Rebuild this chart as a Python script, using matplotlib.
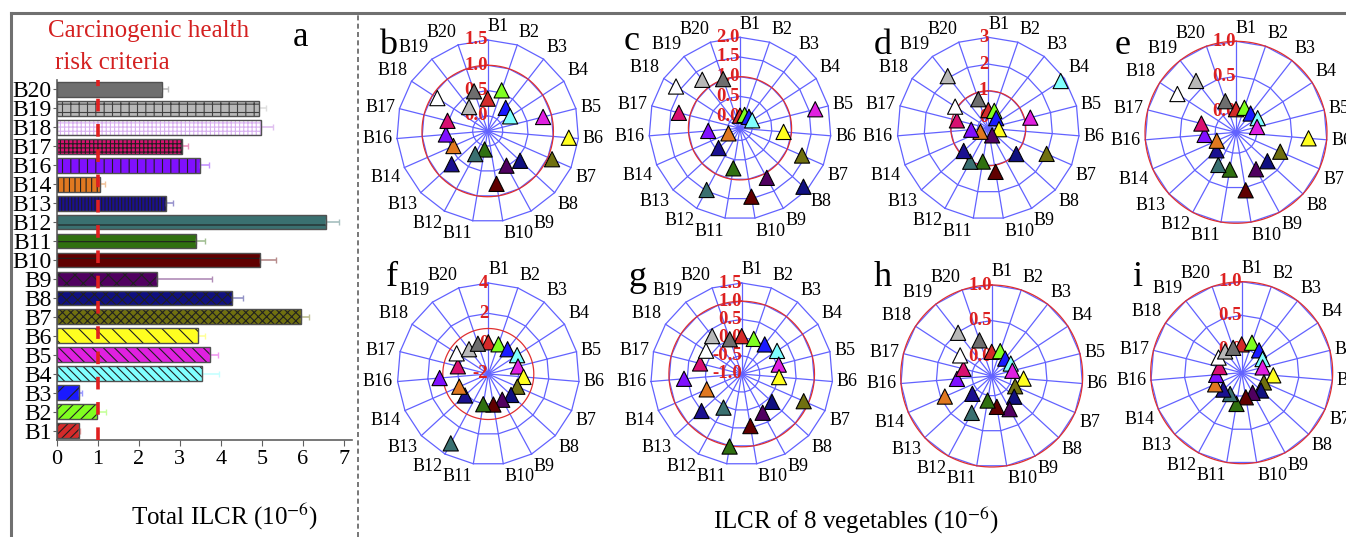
import numpy as np
import matplotlib
matplotlib.use('Agg')
import matplotlib.pyplot as plt
from matplotlib.lines import Line2D
from matplotlib.colors import to_rgb

plt.rcParams['font.family'] = ['Liberation Serif', 'DejaVu Serif']
plt.rcParams['mathtext.fontset'] = 'stix'
plt.rcParams['hatch.linewidth'] = 0.8

W, H = 1346, 537

# ---- data ----
sites = ['B1', 'B2', 'B3', 'B4', 'B5', 'B6', 'B7', 'B8', 'B9', 'B10',
         'B11', 'B12', 'B13', 'B14', 'B16', 'B17', 'B18', 'B19', 'B20']
total_ilcr = [0.54, 0.97, 0.54, 3.55, 3.73, 3.44, 5.95, 4.27, 2.44, 4.95,
              3.39, 6.57, 2.66, 1.06, 3.48, 3.05, 4.99, 4.93, 2.57]
total_err = [0.03, 0.22, 0.06, 0.40, 0.20, 0.17, 0.20, 0.27, 1.34, 0.39,
             0.22, 0.32, 0.17, 0.11, 0.23, 0.15, 0.28, 0.16, 0.15]
criteria = 1.0

# ILCR of the 8 vegetables (panels b-i), same site order
veg_b = [0.34, 0.55, 0.28, 0.23, 0.83, 1.31, 1.09, 0.57, 0.48, 0.76,
         0.07, 0.22, 0.67, 0.44, 0.53, 0.52, 0.89, 0.30, 0.53]
veg_c = [0.01, 0.05, 0.06, 0.06, 1.66, 0.80, 1.41, 1.88, 1.12, 1.45,
         0.72, 1.47, 0.43, 0.01, 0.50, 1.29, 1.63, 1.25, 1.01]
veg_d = [0.28, 0.29, 0.08, 2.83, 1.22, 0.00, 1.98, 1.02, -0.10, 1.25,
         0.86, 1.02, 0.85, -0.08, 0.24, 0.81, 1.08, 2.07, 0.75]
veg_e = [0.03, 0.07, 0.04, 0.07, 0.01, 0.74, 0.39, 0.31, 0.30, 0.54,
         0.24, 0.23, 0.08, 0.00, 0.15, 0.21, 0.70, 0.63, 0.17]
veg_f = [0.09, 0.07, 0.07, 0.27, 0.02, 0.33, 0.09, 0.04, -0.07, 0.04,
         0.02, 3.20, 0.09, 0.09, 1.22, 0.07, 0.49, 0.07, 0.11]
veg_g = [0.04, 0.02, 0.03, 0.16, 0.05, 0.03, 0.86, 0.13, 0.21, 0.45,
         1.02, 0.05, 0.50, 0.05, 0.59, 0.18, 0.17, 0.32, 0.01]
veg_h = [0.06, 0.09, 0.03, 0.04, 0.02, 0.17, 0.08, 0.15, 0.25, 0.16,
         0.07, 0.31, 0.09, 0.44, 0.21, 0.13, 0.25, 0.49, 0.25]
veg_i = [0.07, 0.12, 0.07, 0.02, -0.03, 0.12, 0.01, 0.04, -0.01, 0.02,
         0.12, 0.01, 0.02, 0.08, 0.03, -0.01, 0.06, 0.05, 0.04]

# radial ticks of each radar panel
ticks_b = [0.0, 0.5, 1.0, 1.5]
ticks_c = [0.0, 0.5, 1.0, 1.5, 2.0]
ticks_d = [0, 1, 2, 3]
ticks_e = [0.0, 0.5, 1.0]
ticks_f = [-2, 0, 2, 4]
ticks_g = [-1.0, -0.5, 0.0, 0.5, 1.0, 1.5]
ticks_h = [0.0, 0.5, 1.0]
ticks_i = [0.0, 0.5, 1.0]

# ---- styles ----
colors = ['#d42a2a', '#80ff20', '#1a1aff', '#80ffff', '#e020e0', '#ffff20',
          '#707010', '#101080', '#500060', '#600000', '#307010', '#3a7070',
          '#1a1090', '#e07820', '#8010ff', '#d81070', '#ffffff', '#b8b8b8',
          '#6e6e6e']
hatches = ['////', '///', '//', '\\\\\\\\', '\\\\\\', '\\\\', 'xxxx', 'xxx', 'xx',
           '-', '-', '-', '|||||', '|||', '||', '++++', '++++', '++', '']
hatch_cols = ['#202020'] * 16 + ['#d8b0f0', '#404040', '#404040']


def fx(x):
    return x / W


def fy(y):
    return 1 - y / H


fig = plt.figure(figsize=(W / 100, H / 100), dpi=100)

# frame lines
fig.add_artist(Line2D([fx(11), 1], [fy(13), fy(13)], color='#707070', lw=2.2))
fig.add_artist(Line2D([fx(11), fx(11)], [0, fy(13)], color='#707070', lw=2.2))
fig.add_artist(Line2D([fx(358), fx(358)], [0, fy(13)], color='#606060', lw=1.2,
                      dashes=(3, 2)))

# ---- panel a: bar chart ----
ax = fig.add_axes([fx(57), fy(440), fx(352) - fx(57), fy(80) - fy(440)])
y = np.arange(len(sites))
for i in range(len(sites)):
    ax.barh(y[i], total_ilcr[i], height=0.78, color=colors[i],
            edgecolor=hatch_cols[i], hatch=hatches[i], linewidth=0, zorder=2)
    light = tuple(0.45 * np.array(to_rgb(colors[i])) + 0.55)
    if colors[i] == '#ffffff':
        light = '#e0c0f0'
    ax.errorbar(total_ilcr[i], y[i], xerr=[[0], [total_err[i]]], fmt='none',
                ecolor=light, elinewidth=1.2, capsize=2.5, zorder=3)
ax.barh(y, total_ilcr, height=0.78, fill=False, edgecolor='#505050',
        linewidth=1.0, zorder=4)
ax.axvline(criteria, color='#e02020', lw=2.6, dashes=(3.5, 3.5), zorder=5)
ax.set_xlim(0, 7.2)
ax.set_ylim(-0.5, 18.5)
ax.set_yticks(y)
ax.set_yticklabels(sites, fontsize=17)
ax.set_xticks(range(8))
ax.tick_params(axis='x', labelsize=16, length=4, color='#606060', pad=3)
ax.tick_params(axis='y', length=3, color='#606060', pad=1)
for s in ['top', 'right']:
    ax.spines[s].set_visible(False)
for s in ['left', 'bottom']:
    ax.spines[s].set_color('#606060')
    ax.spines[s].set_linewidth(1.2)

fig.text(fx(48), fy(31), 'Carcinogenic health', color='#d42020', fontsize=18,
         ha='left', va='center')
fig.text(fx(55), fy(63), 'risk criteria', color='#d42020', fontsize=18,
         ha='left', va='center')
fig.text(fx(300), fy(38), 'a', fontsize=25, ha='center', va='center')
fig.text(fx(225), fy(517), 'Total ILCR (10$^{-6}$)', fontsize=18,
         ha='center', va='center')
fig.text(fx(856), fy(521), 'ILCR of 8 vegetables (10$^{-6}$)', fontsize=18,
         ha='center', va='center')

# ---- radar panels b-i ----
panels = [
    ('b', veg_b, ticks_b, -0.30, 487.7, 131.0),
    ('c', veg_c, ticks_c, -0.31, 740.0, 128.3),
    ('d', veg_d, ticks_d, -0.40, 988.3, 128.3),
    ('e', veg_e, ticks_e, -0.30, 1236.0, 132.3),
    ('f', veg_f, ticks_f, -2.00, 488.3, 374.0),
    ('g', veg_g, ticks_g, -1.00, 741.7, 374.0),
    ('h', veg_h, ticks_h, -0.28, 991.7, 376.0),
    ('i', veg_i, ticks_i, -0.35, 1241.7, 372.7),
]
letter_pos = {'b': (388, 45), 'c': (632, 42), 'd': (883, 45), 'e': (1123, 45),
              'f': (392, 277), 'g': (638, 278), 'h': (883, 277), 'i': (1137, 278)}

R = 91
n = len(sites)
theta = np.arange(n) * 2 * np.pi / n
half = np.pi / n
grid_col = '#6262ff'

for letter, vals, ticks, rmin, cx, cy in panels:
    pax = fig.add_axes([fx(cx - R), fy(cy + R), 2 * R / W, 2 * R / H],
                       projection='polar')
    pax.set_theta_zero_location('N')
    pax.set_theta_direction(-1)
    rmax = ticks[-1]
    pax.set_ylim(rmin, rmax)
    pax.set_axis_off()

    # polygon rings
    for v in ticks:
        if v <= rmin:
            continue
        rho = v - rmin
        th_all, r_all = [], []
        for k in range(n):
            phi = np.linspace(theta[k], theta[k] + 2 * half, 20)
            th_all.append(phi)
            r_all.append(rmin + rho * np.cos(half) / np.cos(phi - theta[k] - half))
        pax.plot(np.concatenate(th_all), np.concatenate(r_all), color=grid_col,
                 lw=0.9, clip_on=False, zorder=1)
    # spokes
    for t in theta:
        pax.plot([t, t], [rmin, rmax], color=grid_col, lw=0.9, clip_on=False,
                 zorder=1)
    # criteria circle
    circ = np.linspace(0, 2 * np.pi, 400)
    pax.plot(circ, np.full_like(circ, criteria), color='#e03030', lw=0.9,
             clip_on=False, zorder=2)

    # radial tick labels
    for v in ticks:
        lab = ('%g' % v) if isinstance(v, int) else ('%.1f' % v)
        pax.text(0, v, lab, color='#dd2020', fontsize=13.5, fontweight='bold',
                 ha='right', va='center', zorder=3)

    # site labels
    for t, name in zip(theta, sites):
        s, c = np.sin(t), np.cos(t)
        ha = 'left' if s > -0.01 else 'right'
        va = 'bottom' if c > 0.35 else ('top' if c < -0.35 else 'center')
        pax.text(t, rmin + 1.05 * (rmax - rmin), name, fontsize=13,
                 ha=ha, va=va)

    pax.scatter(theta, vals, marker='^', s=120, c=colors, edgecolors='black',
                linewidths=0.8, zorder=6, clip_on=False)

    lx, ly = letter_pos[letter]
    fig.text(fx(lx), fy(ly), letter, fontsize=26, ha='center', va='center')

fig.savefig('out.png', dpi=100)
